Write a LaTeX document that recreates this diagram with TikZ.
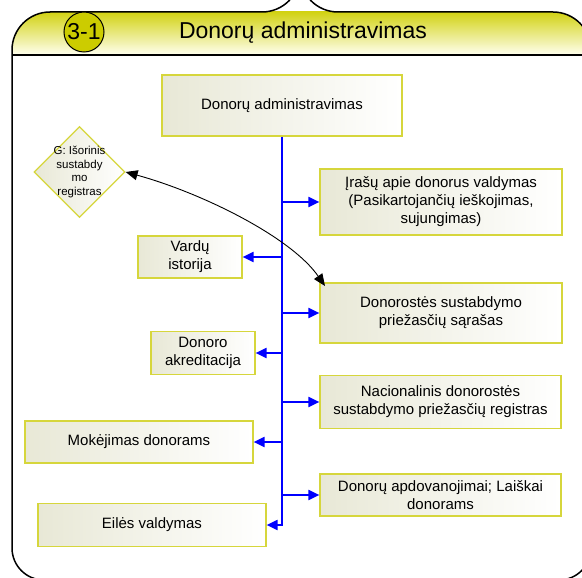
\documentclass[tikz,border=0pt]{standalone}
\usepackage{fontspec}
\setmainfont{Liberation Sans}
\usepackage{tikz}
\usetikzlibrary{shapes.geometric,arrows.meta,positioning}
\definecolor{boxline}{RGB}{214,214,60}
\definecolor{boxfill}{RGB}{232,232,214}
\definecolor{headyellow}{RGB}{210,210,20}
\definecolor{badgeyellow}{RGB}{204,204,0}

\begin{document}
\begin{tikzpicture}[
    x=1pt, y=-1pt,
    every node/.style={font=\fontsize{15}{18}\selectfont, align=center, inner sep=0pt},
    task/.style={draw=boxline, line width=1.2pt, left color=boxfill, right color=white},
    gate/.style={diamond, aspect=1, draw=boxline, line width=1.2pt, left color=boxfill, right color=white,
        inner sep=-3pt, minimum size=91pt, font=\fontsize{11.5}{13.5}\selectfont},
    branch/.style={blue, line width=2pt, -{Triangle[length=11pt,width=10pt]}},
    spine/.style={blue, line width=2pt},
    link/.style={black, line width=0.9pt, {Triangle[length=12pt,width=10pt]}-{Triangle[length=12pt,width=10pt]}},
    frame/.style={black, line width=1.5pt}
]
\useasboundingbox (0,0) rectangle (582,578);
\clip (0,0) rectangle (582,578);

% header band
\begin{scope}
\clip (300,12) [rounded corners=38pt] -| (12,300) [rounded corners=32pt] |- (300,580) -| (591,300) [rounded corners=38pt] |- (300,12) -- cycle;
\shade[top color=headyellow, bottom color=white!94!yellow] (0,12) rectangle (600,55);
\end{scope}
\draw[frame] (12,55) -- (591,55);

% frame
\draw[frame] (300,12) [rounded corners=38pt] -| (12,300) [rounded corners=32pt] |- (300,580) -| (591,300) [rounded corners=38pt] |- (300,12) -- cycle;

% title
\node[circle, draw, line width=1pt, fill=badgeyellow, minimum size=40pt, font=\fontsize{23}{27}\selectfont] (num) at (84,32) {3-1};
\node[font=\fontsize{23}{27}\selectfont] (title) at (303,33) {Donorų administravimas};

% boxes
\node[task, minimum width=240pt, minimum height=61pt] (admin) at (282,105.5) {Donorų administravimas};
\node[task, minimum width=242pt, minimum height=66pt] (irasu) at (441,202) {Įrašų apie donorus valdymas\\(Pasikartojančių ieškojimas,\\sujungimas)};
\node[task, minimum width=242pt, minimum height=60pt] (donorostes) at (441,313) {Donorostės sustabdymo\\priežasčių sąrašas};
\node[task, minimum width=241pt, minimum height=53pt] (nacional) at (440.5,402) {Nacionalinis donorostės\\sustabdymo priežasčių registras};
\node[task, minimum width=241pt, minimum height=42pt] (apdov) at (440.5,495) {Donorų apdovanojimai; Laiškai\\donorams};
\node[task, minimum width=104pt, minimum height=42pt] (vardu) at (190,257) {Vardų\\istorija};
\node[task, minimum width=104pt, minimum height=43pt] (akred) at (203,353) {Donoro\\akreditacija};
\node[task, minimum width=228pt, minimum height=42pt] (mokejimas) at (139,442) {Mokėjimas donorams};
\node[task, minimum width=228pt, minimum height=43pt] (eiles) at (152,525) {Eilės valdymas};
\node[gate] (gate) at (79.5,172) {G: Išorinis\\sustabdy\\mo\\registras};

% spine and branches
\coordinate (spineend) at (282,526);
\draw[spine] (admin.south) -- (spineend);
\draw[branch] (admin.south |- irasu) -- (irasu);
\draw[branch] (admin.south |- donorostes) -- (donorostes);
\draw[branch] (admin.south |- nacional) -- (nacional);
\draw[branch] (admin.south |- apdov) -- (apdov);
\draw[branch] (admin.south |- vardu) -- (vardu);
\draw[branch] (admin.south |- akred) -- (akred);
\draw[branch] (admin.south |- mokejimas) -- (mokejimas);
\draw[branch] (admin.south |- eiles) -- (eiles);

% external link
\coordinate (tip) at (325,286);
\draw[link] (gate.east) .. controls (202,193) and (291,237) .. (tip);

\end{tikzpicture}
\end{document}
